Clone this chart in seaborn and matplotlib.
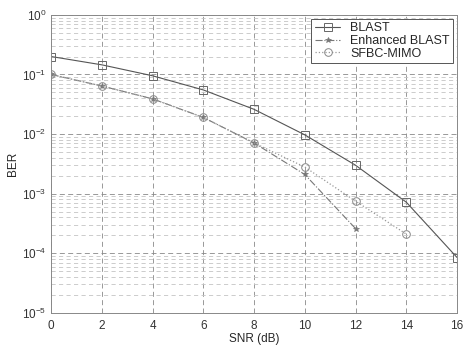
import matplotlib
matplotlib.use("Agg")
import matplotlib.pyplot as plt
import matplotlib.ticker as mticker
import seaborn as sns
import pandas as pd

snr_blast = [0, 2, 4, 6, 8, 10, 12, 14, 16]
ber_blast = [0.2, 0.145, 0.095, 0.055, 0.026, 0.0097, 0.003, 7.2e-4, 8.5e-5]
snr_enh = [0, 2, 4, 6, 8, 10, 12]
ber_enh = [0.1, 0.064, 0.039, 0.019, 0.0071, 0.0021, 2.6e-4]
snr_sfbc = [0, 2, 4, 6, 8, 10, 12, 14]
ber_sfbc = [0.1, 0.064, 0.039, 0.019, 0.0071, 0.0028, 7.5e-4, 2.1e-4]
labels = ["BLAST", "Enhanced BLAST", "SFBC-MIMO"]
x_ticks = [0, 2, 4, 6, 8, 10, 12, 14, 16]

sns.set_style("white")
plt.rcParams['font.family'] = ['Liberation Sans', 'DejaVu Sans']

fig = plt.figure(figsize=(4.64, 3.45), dpi=100)
ax = fig.add_axes([0.110, 0.093, 0.875, 0.864])

sns.lineplot(x=snr_blast, y=ber_blast, ax=ax, color="#555555", linestyle="-",
             linewidth=0.8, marker="s", markersize=5.5, markerfacecolor="none",
             markeredgecolor="#666666", markeredgewidth=0.7, label=labels[0])
sns.lineplot(x=snr_enh, y=ber_enh, ax=ax, color="#777777", linestyle="-.",
             linewidth=0.8, marker="*", markersize=4, markerfacecolor="#777777",
             markeredgecolor="#777777", markeredgewidth=0.5, label=labels[1])
sns.lineplot(x=snr_sfbc, y=ber_sfbc, ax=ax, color="#999999", linestyle=":",
             linewidth=0.9, marker="o", markersize=5.5, markerfacecolor="none",
             markeredgecolor="#888888", markeredgewidth=0.7, label=labels[2])

ax.set_yscale("log")
ax.set_xlim(0, 16)
ax.set_ylim(1e-5, 1)
ax.set_xticks(x_ticks)
ax.set_xticklabels([str(t) for t in x_ticks])
ax.yaxis.set_major_locator(mticker.LogLocator(base=10, numticks=10))
ax.yaxis.set_minor_locator(mticker.LogLocator(base=10, subs=range(2, 10), numticks=20))
ax.yaxis.set_minor_formatter(mticker.NullFormatter())

ax.grid(which="major", axis="both", color="#888888", linestyle=(0, (6, 4)), linewidth=0.6)
ax.grid(which="minor", axis="y", color="#c4c4c4", linestyle=(0, (5, 4)), linewidth=0.6)
ax.set_axisbelow(True)

for s in ax.spines.values():
    s.set_color("#888888")
    s.set_linewidth(0.7)
ax.tick_params(which="both", direction="in", colors="#333333", labelsize=8.5, length=3)
ax.tick_params(which="minor", length=1.5)
ax.tick_params(axis="x", pad=5)

ax.set_xlabel("SNR (dB)", fontsize=8.5, labelpad=1)
ax.set_ylabel("BER", fontsize=8.5, labelpad=2)

leg = ax.legend(loc="upper right", fontsize=9, frameon=True, fancybox=False,
                edgecolor="#555555", framealpha=1, borderpad=0.3, labelspacing=0.05,
                handlelength=2.0, borderaxespad=0.3)
leg.get_frame().set_linewidth(0.7)

fig.savefig("out.png", dpi=100)
